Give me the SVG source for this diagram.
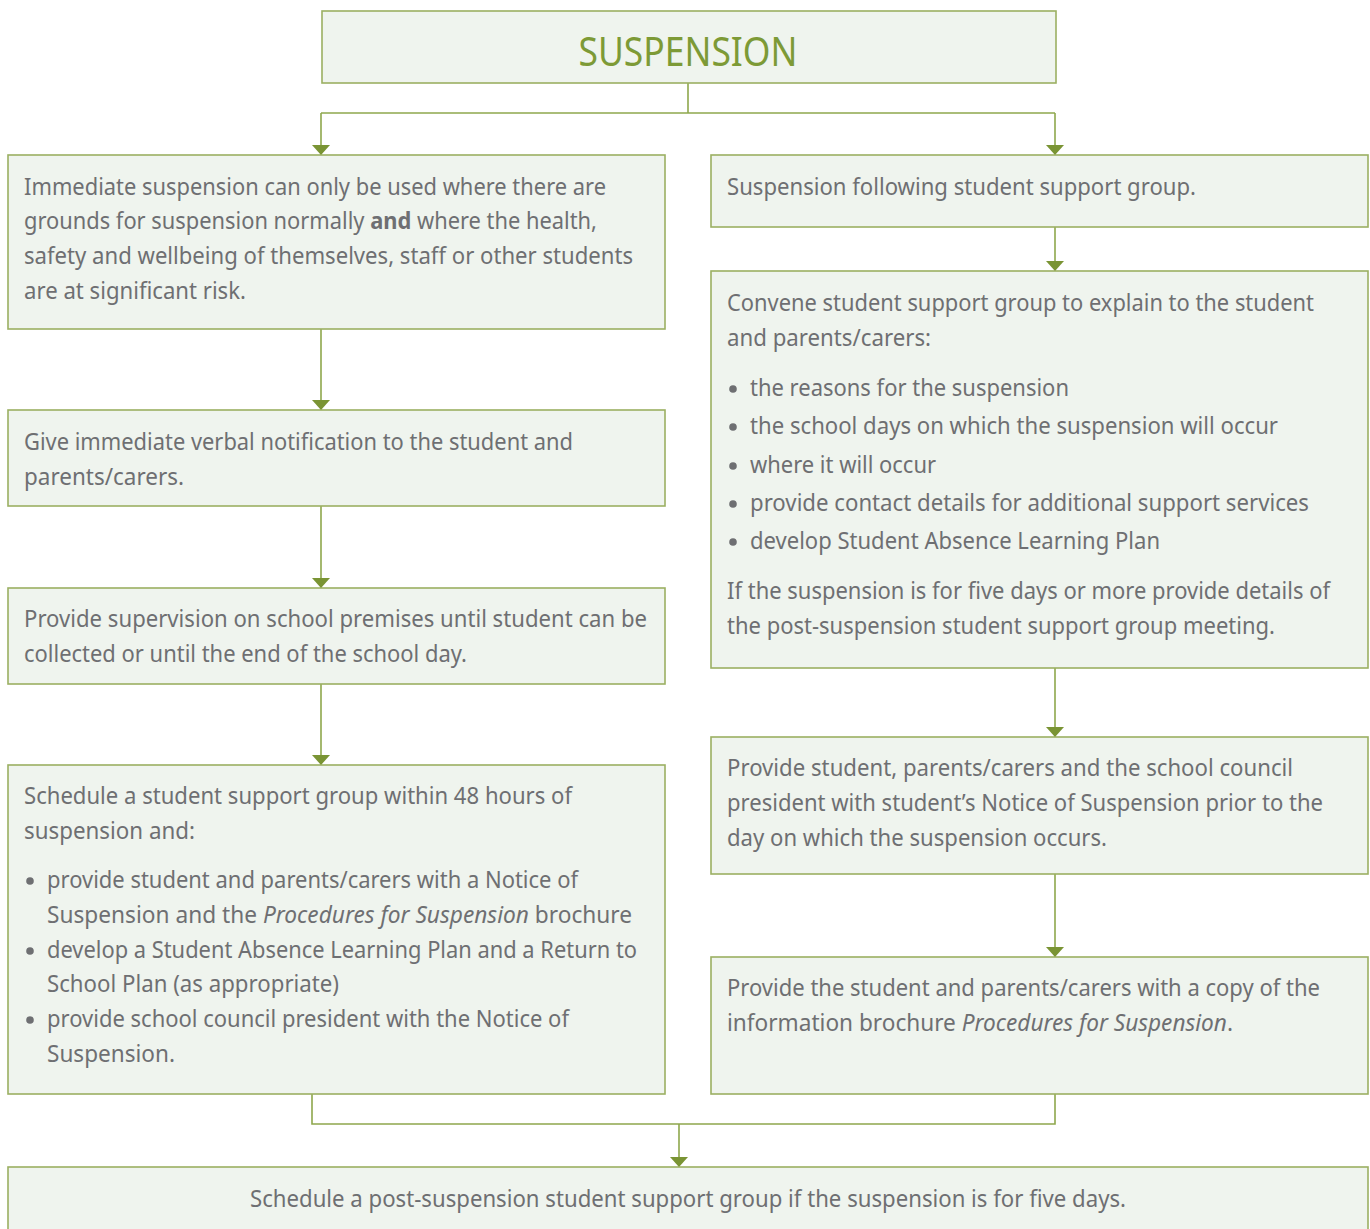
<svg xmlns="http://www.w3.org/2000/svg" width="1370" height="1229" viewBox="0 0 1370 1229">
  <defs>
    <style>
      .box { fill: #eff4ee; stroke: #9bb062; stroke-width: 1.6; }
      .t { font-family: "Noto Sans", "Open Sans", sans-serif; font-size: 23px; fill: #6e6f72; }
      .b { font-weight: bold; }
      .i { font-style: italic; }
      .title { font-family: "Noto Sans", "Open Sans", sans-serif; font-size: 40px; fill: #7d9a36; }
      .conn { fill: none; stroke: #8ea74c; stroke-width: 1.6; }
      .dot { fill: #6e6f72; }
    </style>
    <marker id="arr" viewBox="0 0 10 18" markerWidth="10" markerHeight="18" refX="10" refY="9" orient="auto" markerUnits="userSpaceOnUse">
      <path d="M0,0 L10,9 L0,18 z" fill="#7a9434"/>
    </marker>
  </defs>
  <rect width="1370" height="1229" fill="#ffffff"/>

  <g id="connectors">
    <path class="conn" d="M688,83 V113"/>
    <path class="conn" d="M321,113 H1055"/>
    <path class="conn" d="M321,113 V155" marker-end="url(#arr)"/>
    <path class="conn" d="M1055,113 V155" marker-end="url(#arr)"/>
    <path class="conn" d="M321,329 V410" marker-end="url(#arr)"/>
    <path class="conn" d="M321,506 V588" marker-end="url(#arr)"/>
    <path class="conn" d="M321,684 V765" marker-end="url(#arr)"/>
    <path class="conn" d="M1055,227 V271" marker-end="url(#arr)"/>
    <path class="conn" d="M1055,668 V737" marker-end="url(#arr)"/>
    <path class="conn" d="M1055,874 V957" marker-end="url(#arr)"/>
    <path class="conn" d="M312,1094 V1124 H1055 V1094"/>
    <path class="conn" d="M679,1124 V1167" marker-end="url(#arr)"/>
  </g>

  <g id="title">
    <rect class="box" x="322" y="11" width="734" height="72"/>
    <text class="title" x="688" y="66" text-anchor="middle" textLength="219" lengthAdjust="spacingAndGlyphs">SUSPENSION</text>
  </g>

  <g id="immediate">
    <rect class="box" x="8" y="155" width="657" height="174"/>
    <text class="t" x="24" y="195" textLength="582" lengthAdjust="spacingAndGlyphs">Immediate suspension can only be used where there are</text>
    <text class="t" x="24" y="229" textLength="573" lengthAdjust="spacingAndGlyphs">grounds for suspension normally <tspan class="b">and</tspan> where the health,</text>
    <text class="t" x="24" y="264" textLength="609" lengthAdjust="spacingAndGlyphs">safety and wellbeing of themselves, staff or other students</text>
    <text class="t" x="24" y="299" textLength="222" lengthAdjust="spacingAndGlyphs">are at significant risk.</text>
  </g>

  <g id="verbal">
    <rect class="box" x="8" y="410" width="657" height="96"/>
    <text class="t" x="24" y="450" textLength="549" lengthAdjust="spacingAndGlyphs">Give immediate verbal notification to the student and</text>
    <text class="t" x="24" y="485" textLength="160" lengthAdjust="spacingAndGlyphs">parents/carers.</text>
  </g>

  <g id="supervision">
    <rect class="box" x="8" y="588" width="657" height="96"/>
    <text class="t" x="24" y="627" textLength="623" lengthAdjust="spacingAndGlyphs">Provide supervision on school premises until student can be</text>
    <text class="t" x="24" y="662" textLength="443" lengthAdjust="spacingAndGlyphs">collected or until the end of the school day.</text>
  </g>

  <g id="schedule48">
    <rect class="box" x="8" y="765" width="657" height="329"/>
    <text class="t" x="24" y="804" textLength="548" lengthAdjust="spacingAndGlyphs">Schedule a student support group within 48 hours of</text>
    <text class="t" x="24" y="839" textLength="171" lengthAdjust="spacingAndGlyphs">suspension and:</text>
    <circle class="dot" cx="30" cy="881" r="3.8"/>
    <text class="t" x="47" y="888" textLength="531" lengthAdjust="spacingAndGlyphs">provide student and parents/carers with a Notice of</text>
    <text class="t" x="47" y="923" textLength="585" lengthAdjust="spacingAndGlyphs">Suspension and the <tspan class="i">Procedures for Suspension</tspan> brochure</text>
    <circle class="dot" cx="30" cy="951" r="3.8"/>
    <text class="t" x="47" y="958" textLength="590" lengthAdjust="spacingAndGlyphs">develop a Student Absence Learning Plan and a Return to</text>
    <text class="t" x="47" y="992" textLength="292" lengthAdjust="spacingAndGlyphs">School Plan (as appropriate)</text>
    <circle class="dot" cx="30" cy="1020" r="3.8"/>
    <text class="t" x="47" y="1027" textLength="522" lengthAdjust="spacingAndGlyphs">provide school council president with the Notice of</text>
    <text class="t" x="47" y="1062" textLength="128" lengthAdjust="spacingAndGlyphs">Suspension.</text>
  </g>

  <g id="following">
    <rect class="box" x="711" y="155" width="657" height="72"/>
    <text class="t" x="727" y="195" textLength="469" lengthAdjust="spacingAndGlyphs">Suspension following student support group.</text>
  </g>

  <g id="convene">
    <rect class="box" x="711" y="271" width="657" height="397"/>
    <text class="t" x="727" y="311" textLength="587" lengthAdjust="spacingAndGlyphs">Convene student support group to explain to the student</text>
    <text class="t" x="727" y="346" textLength="204" lengthAdjust="spacingAndGlyphs">and parents/carers:</text>
    <circle class="dot" cx="733" cy="389" r="3.8"/>
    <text class="t" x="750" y="396" textLength="319" lengthAdjust="spacingAndGlyphs">the reasons for the suspension</text>
    <circle class="dot" cx="733" cy="427" r="3.8"/>
    <text class="t" x="750" y="434" textLength="528" lengthAdjust="spacingAndGlyphs">the school days on which the suspension will occur</text>
    <circle class="dot" cx="733" cy="466" r="3.8"/>
    <text class="t" x="750" y="473" textLength="186" lengthAdjust="spacingAndGlyphs">where it will occur</text>
    <circle class="dot" cx="733" cy="504" r="3.8"/>
    <text class="t" x="750" y="511" textLength="559" lengthAdjust="spacingAndGlyphs">provide contact details for additional support services</text>
    <circle class="dot" cx="733" cy="542" r="3.8"/>
    <text class="t" x="750" y="549" textLength="410" lengthAdjust="spacingAndGlyphs">develop Student Absence Learning Plan</text>
    <text class="t" x="727" y="599" textLength="603" lengthAdjust="spacingAndGlyphs">If the suspension is for five days or more provide details of</text>
    <text class="t" x="727" y="634" textLength="548" lengthAdjust="spacingAndGlyphs">the post-suspension student support group meeting.</text>
  </g>

  <g id="notice">
    <rect class="box" x="711" y="737" width="657" height="137"/>
    <text class="t" x="727" y="776" textLength="566" lengthAdjust="spacingAndGlyphs">Provide student, parents/carers and the school council</text>
    <text class="t" x="727" y="811" textLength="596" lengthAdjust="spacingAndGlyphs">president with student’s Notice of Suspension prior to the</text>
    <text class="t" x="727" y="846" textLength="380" lengthAdjust="spacingAndGlyphs">day on which the suspension occurs.</text>
  </g>

  <g id="brochure">
    <rect class="box" x="711" y="957" width="657" height="137"/>
    <text class="t" x="727" y="996" textLength="593" lengthAdjust="spacingAndGlyphs">Provide the student and parents/carers with a copy of the</text>
    <text class="t" x="727" y="1031" textLength="506" lengthAdjust="spacingAndGlyphs">information brochure <tspan class="i">Procedures for Suspension</tspan>.</text>
  </g>

  <g id="post">
    <rect class="box" x="8" y="1167" width="1360" height="70"/>
    <text class="t" x="688" y="1207" text-anchor="middle" textLength="876" lengthAdjust="spacingAndGlyphs">Schedule a post-suspension student support group if the suspension is for five days.</text>
  </g>
</svg>
